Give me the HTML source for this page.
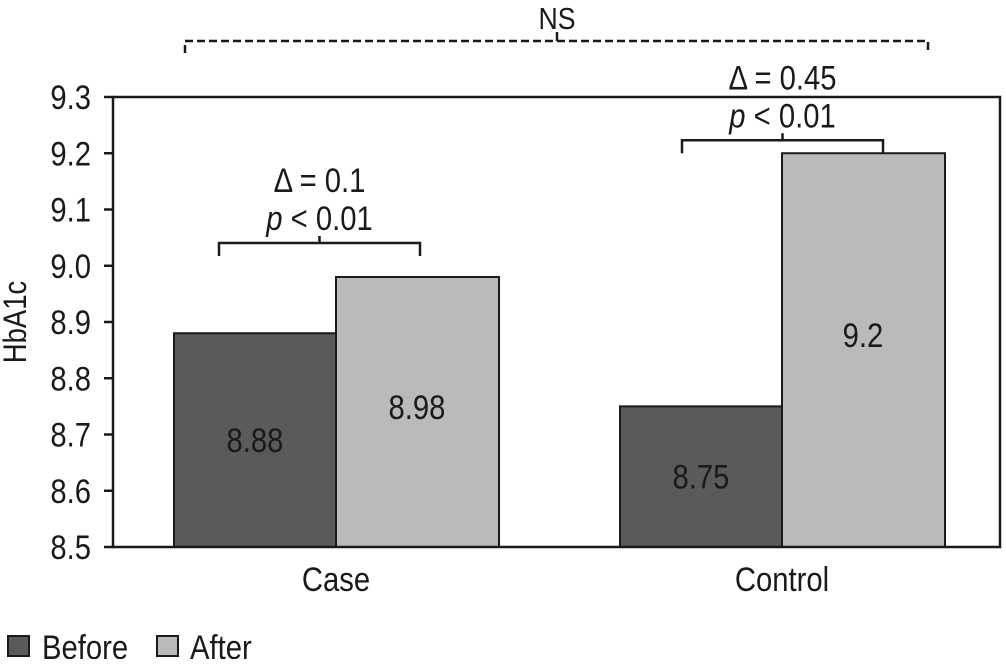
<!DOCTYPE html>
<html><head><meta charset="utf-8"><style>
body{margin:0;background:#fff}
text{font-family:"Liberation Sans Narrow","Liberation Sans",sans-serif;fill:#1a1a1a}
</style></head><body>
<svg width="1006" height="659" viewBox="0 0 1006 659">
<g id="g"></g>
</svg>
<script>
const categories=["Case","Control"];
const before=[8.88,8.75];
const after=[8.98,9.2];
const ticks=[8.5,8.6,8.7,8.8,8.9,9.0,9.1,9.2,9.3];
const deltas=["Δ = 0.1","Δ = 0.45"];
const pvals=["p < 0.01","p < 0.01"];
const NS="http://www.w3.org/2000/svg";
const g=document.getElementById('g');
const X0=113,X1=1000,Y0=547,Y1=97,vmin=8.5,vmax=9.3;
const SX=0.86;
const y=v=>Y0-(v-vmin)/(vmax-vmin)*(Y0-Y1);
const groupCenter=[336,782];
const brL=[117,100],brR=[84,101],brGap=[34,13];
function el(t,a,txt){const e=document.createElementNS(NS,t);for(const k in a)e.setAttribute(k,a[k]);if(txt!==undefined)e.textContent=txt;g.appendChild(e);return e;}
function tx(x,yy,size,anchor,txt,extra){
 const a={x:0,y:0,'font-size':size,'text-anchor':anchor,transform:`translate(${x},${yy}) scale(${SX},1)`};
 return el('text',a,txt);
}
categories.forEach((c,i)=>{
 const cx=groupCenter[i];
 const b=el('rect',{x:cx-162,y:y(before[i]),width:162,height:Y0-y(before[i]),fill:'#5a5a5c',stroke:'#1a1a1a','stroke-width':2});
 
 
 const a=el('rect',{x:cx,y:y(after[i]),width:163,height:Y0-y(after[i]),fill:'#b9babb',stroke:'#1a1a1a','stroke-width':2});
 
 
 const lb=tx(cx-81,(y(before[i])+Y0)/2+12,34,'middle',String(before[i]));
 
 
 const la=tx(cx+81,(y(after[i])+Y0)/2+12-(i?15:5),34,'middle',String(after[i]));
 
 
 const cl=tx(cx,591,34,'middle',c);
 
 
 const top=Math.max(before[i],after[i]);
 const by=y(top)-brGap[i];
 const bx0=cx-brL[i],bx1=cx+brR[i],bm=(bx0+bx1)/2;
 const br=el('path',{d:`M${bx0} ${by+13}V${by}H${bx1}V${by+13}M${bm} ${by}V${by-7}`,fill:'none',stroke:'#1a1a1a','stroke-width':2.5});
 
 
 const d=tx(bm,by-51,34,'middle',deltas[i]);
 
 
 const p=tx(bm,by-13,34,'middle');
 
 
 const pi=document.createElementNS(NS,'tspan');pi.setAttribute('font-style','italic');pi.textContent='p';p.appendChild(pi);
 p.appendChild(document.createTextNode(pvals[i].slice(1)));
});
const fr=el('rect',{x:X0,y:Y1,width:X1-X0,height:Y0-Y1,fill:'none',stroke:'#1a1a1a','stroke-width':2.5});


ticks.forEach(t=>{
 const tk=el('line',{x1:104,x2:X0,y1:y(t),y2:y(t),stroke:'#1a1a1a','stroke-width':2.5});
 
 
 const tl=tx(91,y(t)+12,34,'end',t.toFixed(1));
 
 
});
const yt=el('text',{x:0,y:0,'font-size':32,'text-anchor':'middle',transform:'translate(26,322) rotate(-90) scale(0.86,1)'},'HbA1c');


const nb=el('path',{d:'M185 53V41H928V53',fill:'none',stroke:'#1a1a1a','stroke-width':2.5,'stroke-dasharray':'8 4'});


const nt=el('line',{x1:557,x2:557,y1:41,y2:32,stroke:'#1a1a1a','stroke-width':2.5});


const ns=tx(557,29,31,'middle','NS');


const l1=el('rect',{x:8,y:636,width:21,height:20,fill:'#5a5a5c',stroke:'#1a1a1a','stroke-width':2});


const l1t=tx(42,659,34,'start','Before');


const l2=el('rect',{x:157,y:636,width:21,height:20,fill:'#b9babb',stroke:'#1a1a1a','stroke-width':2});


const l2t=tx(190,659,34,'start','After');


</script>
</body></html>
